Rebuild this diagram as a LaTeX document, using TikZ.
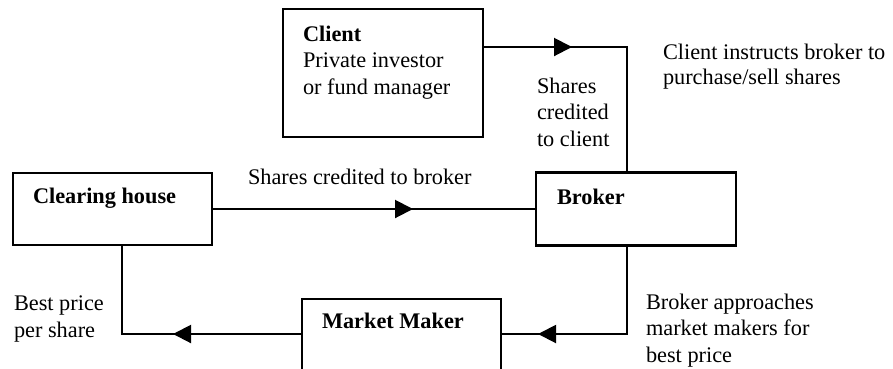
\documentclass[tikz,border=0pt]{standalone}
\usepackage{fontspec}
\setmainfont{Liberation Serif}
\usetikzlibrary{arrows.meta}
\begin{document}
\begin{tikzpicture}[x=1pt,y=-1pt,
  box/.style={draw,line width=2.8pt,inner sep=0,outer sep=0,rectangle},
  lbl/.style={anchor=base west,inner sep=0,outer sep=0,align=left,font=\fontsize{22.3}{26.5}\selectfont},
  conn/.style={line width=2pt},
  tipline/.style={line width=2pt,-{Triangle[length=18pt,width=18pt]}}]
\useasboundingbox (0,0) rectangle (893,368);
\clip (0,0) rectangle (893,368);
% boxes
\node[box,minimum width=200pt,minimum height=128pt] (client) at (383,73) {};
\node[box,minimum width=199pt,minimum height=72pt] (clearing) at (112.5,209) {};
\node[box,minimum width=200pt,minimum height=73pt] (broker) at (636,209) {};
\node[box,minimum width=199pt,minimum height=73pt] (mm) at (401.5,335.5) {};
% box texts (anchor = baseline of last line)
\node[lbl] (tclient) at (303,94) {\textbf{Client}\\Private investor\\or fund manager};
\node[lbl] (tclearing) at (33,203) {\textbf{Clearing house}};
\node[lbl] (tbroker) at (557,204) {\textbf{Broker}};
\node[lbl] (tmm) at (322,328) {\textbf{Market Maker}};
% labels
\node[lbl,font=\fontsize{22.3}{24.5}\selectfont] (linstr) at (663,84) {Client instructs broker to\\purchase/sell shares};
\node[lbl] (lcred) at (537,146) {Shares\\credited\\to client};
\node[lbl] (lbroker) at (248,184) {Shares credited to broker};
\node[lbl] (lbest) at (14,337) {Best price\\per share};
\node[lbl] (lappr) at (646,362) {Broker approaches\\market makers for\\best price};
% connectors
\coordinate (cA) at (483,47);
\coordinate (cB) at (627,47);
\coordinate (cTip) at (572,47);
\draw[conn] (cA) -- (cB) -- (cB |- broker.north);
\draw[tipline] (cA) -- (cTip);
\coordinate (hTip) at (413,209);
\draw[conn] (clearing.east) -- (broker.west);
\draw[tipline] (clearing.east) -- (hTip);
\coordinate (lA) at (122,334);
\coordinate (lTip) at (173,334);
\draw[conn] (lA |- clearing.south) -- (lA) -- (lA -| mm.west);
\draw[tipline] (lA -| mm.west) -- (lTip);
\coordinate (rA) at (627,334);
\coordinate (rTip) at (538,334);
\draw[conn] (rA |- broker.south) -- (rA) -- (rA -| mm.east);
\draw[tipline] (rA) -- (rTip);
\end{tikzpicture}
\end{document}
